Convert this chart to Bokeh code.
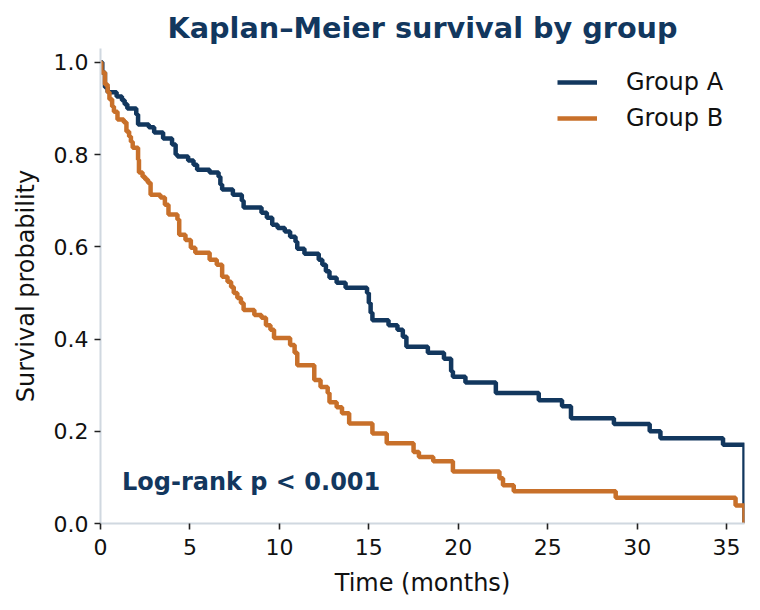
from bokeh.plotting import figure
from bokeh.models import Range1d, FixedTicker, Label, Legend, LegendItem, CustomJSTickFormatter
from bokeh.embed import file_html
from bokeh.resources import INLINE

# Kaplan–Meier step estimates: event times (months) and survival after each event
group_a_time = [0.0, 0.1, 0.25, 0.4, 0.9, 1.2, 1.35, 1.5, 2.0, 2.1, 2.7, 3.0, 3.5, 4.0,
                4.2, 4.3, 4.9, 5.2, 5.4, 6.1, 6.6, 6.7, 6.8, 7.4, 7.9, 8.0, 9.0, 9.3,
                9.6, 9.9, 10.3, 10.6, 10.9, 11.0, 11.4, 12.2, 12.4, 12.6, 12.8, 13.2,
                13.7, 14.9, 15.0, 15.1, 15.2, 16.1, 16.6, 16.9, 17.1, 18.3, 19.2, 19.6,
                19.7, 20.4, 22.1, 24.5, 25.8, 26.3, 28.7, 30.7, 31.3, 34.8, 36.0]
group_a_surv = [1.0, 0.978, 0.946, 0.935, 0.926, 0.918, 0.909, 0.900, 0.887, 0.865, 0.859,
                0.848, 0.835, 0.822, 0.800, 0.796, 0.787, 0.778, 0.767, 0.761, 0.752,
                0.735, 0.724, 0.713, 0.700, 0.685, 0.674, 0.663, 0.648, 0.641, 0.633,
                0.622, 0.611, 0.596, 0.585, 0.572, 0.561, 0.547, 0.533, 0.522, 0.511,
                0.500, 0.478, 0.457, 0.441, 0.430, 0.420, 0.405, 0.383, 0.370, 0.357,
                0.330, 0.318, 0.306, 0.283, 0.267, 0.254, 0.228, 0.216, 0.200, 0.185,
                0.171, 0.0]

group_b_time = [0.0, 0.05, 0.25, 0.4, 0.5, 0.65, 0.75, 0.95, 1.3, 1.45, 1.6, 1.7, 1.8,
                2.1, 2.15, 2.35, 2.5, 2.65, 2.8, 3.35, 3.6, 3.8, 4.3, 4.4, 4.75, 5.05,
                5.3, 6.1, 6.5, 6.8, 7.1, 7.3, 7.45, 7.65, 7.85, 8.0, 8.6, 9.0, 9.25,
                9.5, 9.7, 10.6, 10.85, 11.0, 11.95, 12.3, 12.7, 12.8, 13.2, 13.5, 13.9,
                15.2, 16.0, 17.5, 17.8, 18.6, 19.7, 22.3, 22.5, 23.1, 28.8, 35.5, 36.0]
group_b_surv = [1.0, 0.978, 0.952, 0.935, 0.920, 0.904, 0.893, 0.876, 0.870, 0.850, 0.839,
                0.828, 0.815, 0.789, 0.761, 0.752, 0.746, 0.739, 0.713, 0.707, 0.691,
                0.670, 0.659, 0.626, 0.615, 0.598, 0.587, 0.572, 0.561, 0.535, 0.524,
                0.513, 0.500, 0.489, 0.478, 0.463, 0.452, 0.446, 0.430, 0.420, 0.402,
                0.387, 0.370, 0.343, 0.311, 0.296, 0.283, 0.263, 0.252, 0.239, 0.217,
                0.195, 0.174, 0.155, 0.144, 0.135, 0.113, 0.098, 0.083, 0.070, 0.056,
                0.039, 0.0]

group_names = ["Group A", "Group B"]
x_ticks = [0, 5, 10, 15, 20, 25, 30, 35]
y_ticks = [0.0, 0.2, 0.4, 0.6, 0.8, 1.0]
pvalue_text = "Log-rank p < 0.001"

NAVY = "#12375E"
ORANGE = "#C8702A"
SPINE = "#D0D8E0"
FONT = "DejaVu Sans"

p = figure(width=760, height=610, output_backend="svg", toolbar_location=None,
           x_range=Range1d(0, 36), y_range=Range1d(0, 1.03),
           min_border_left=100, min_border_right=16, min_border_top=48,
           min_border_bottom=87)
p.outline_line_color = None
p.grid.visible = False
p.background_fill_color = "white"
p.border_fill_color = "white"

p.title.text = "Kaplan\u2013Meier survival by group"
p.title.align = "center"
p.title.text_font = FONT
p.title.text_font_size = "28.7px"
p.title.text_font_style = "bold"
p.title.text_color = NAVY
p.title.offset = 0
p.title.standoff = 8

r_a = p.step(group_a_time, group_a_surv, mode="after", line_color=NAVY, line_width=4.5)
r_b = p.step(group_b_time, group_b_surv, mode="after", line_color=ORANGE, line_width=4.5)

for ax in (p.xaxis[0], p.yaxis[0]):
    ax.axis_line_color = SPINE
    ax.axis_line_width = 2
    ax.major_tick_line_color = "#222222"
    ax.major_tick_line_width = 1.6
    ax.major_tick_out = 6
    ax.major_tick_in = 0
    ax.minor_tick_line_color = None
    ax.major_label_text_font = FONT
    ax.major_label_text_font_size = "22px"
    ax.major_label_text_color = "#111111"
    ax.axis_label_text_font = FONT
    ax.axis_label_text_font_size = "24px"
    ax.axis_label_text_font_style = "normal"
    ax.axis_label_text_color = "#111111"

p.xaxis.ticker = FixedTicker(ticks=x_ticks)
p.yaxis.ticker = FixedTicker(ticks=y_ticks)
p.yaxis.formatter = CustomJSTickFormatter(code="return tick.toFixed(1);")
p.xaxis.axis_label = "Time (months)"
p.yaxis.axis_label = "Survival probability"
p.xaxis.major_label_standoff = 9
p.yaxis.major_label_standoff = 6
p.xaxis.axis_label_standoff = 11
p.yaxis.axis_label_standoff = 11

# legend box anchored in pixels from the frame's bottom-left corner
legend = Legend(items=[LegendItem(label=group_names[0], renderers=[r_a]),
                       LegendItem(label=group_names[1], renderers=[r_b])],
                location=(457, 391), border_line_color=None,
                background_fill_alpha=0, margin=0, padding=10,
                glyph_width=40, glyph_height=24, label_height=24,
                label_standoff=29, spacing=8,
                label_text_font=FONT, label_text_font_size="24px",
                label_text_color="#111111")
p.add_layout(legend)

p.add_layout(Label(x=1.2, y=0.09, text=pvalue_text, text_font=FONT,
                   text_font_size="24px", text_font_style="bold",
                   text_color=NAVY, text_baseline="middle"))

open("out.html", "w").write(file_html(p, INLINE))
